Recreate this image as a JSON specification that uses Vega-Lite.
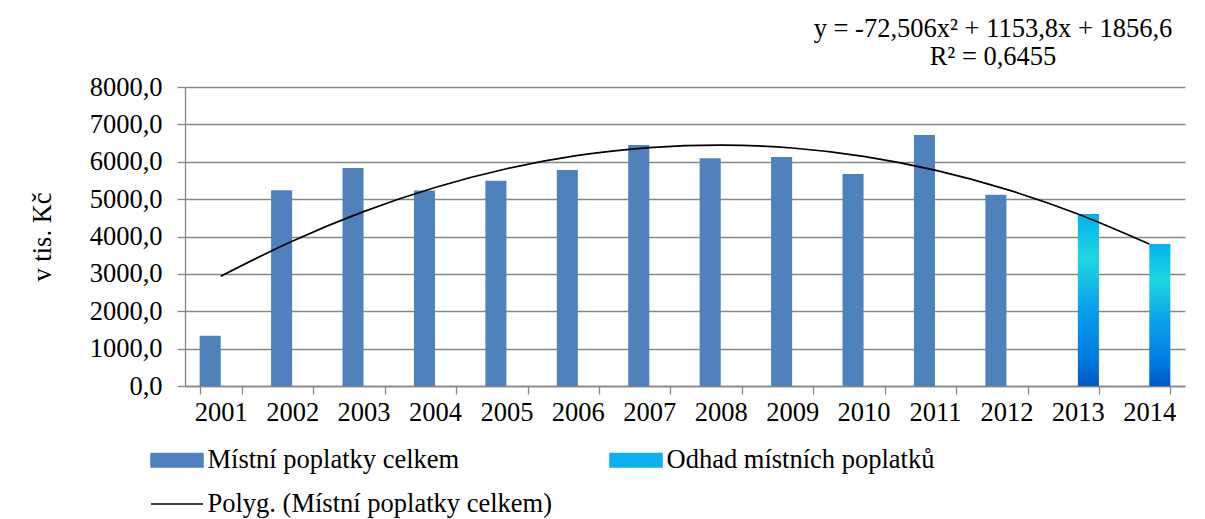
{
  "$schema": "https://vega.github.io/schema/vega-lite/v6.json",
  "width": 1000,
  "height": 299,
  "autosize": {"type": "none"},
  "padding": {"left": 185, "top": 87, "right": 20, "bottom": 133},
  "background": "white",
  "config": {"view": {"stroke": null}, "font": "Liberation Serif"},
  "title": {
    "text": "y = -72,506x² + 1153,8x + 1856,6",
    "subtitle": "R² = 0,6455",
    "anchor": "end",
    "align": "center",
    "frame": "group",
    "dx": -192,
    "offset": 4,
    "font": "Liberation Serif",
    "fontSize": 26.5,
    "fontWeight": "normal",
    "color": "black",
    "subtitleFont": "Liberation Serif",
    "subtitleFontSize": 26.5,
    "subtitleColor": "black",
    "subtitlePadding": 1
  },
  "datasets": {
    "bars": [
      {"year": "2001", "value": 1345, "series": "Místní poplatky celkem"},
      {"year": "2002", "value": 5240, "series": "Místní poplatky celkem"},
      {"year": "2003", "value": 5831, "series": "Místní poplatky celkem"},
      {"year": "2004", "value": 5234, "series": "Místní poplatky celkem"},
      {"year": "2005", "value": 5491, "series": "Místní poplatky celkem"},
      {"year": "2006", "value": 5778, "series": "Místní poplatky celkem"},
      {"year": "2007", "value": 6447, "series": "Místní poplatky celkem"},
      {"year": "2008", "value": 6091, "series": "Místní poplatky celkem"},
      {"year": "2009", "value": 6126, "series": "Místní poplatky celkem"},
      {"year": "2010", "value": 5671, "series": "Místní poplatky celkem"},
      {"year": "2011", "value": 6716, "series": "Místní poplatky celkem"},
      {"year": "2012", "value": 5115, "series": "Místní poplatky celkem"},
      {"year": "2013", "value": 4602, "series": "Odhad místních poplatků"},
      {"year": "2014", "value": 3799, "series": "Odhad místních poplatků"}
    ],
    "trend": [
      {"year": "2001", "value": 2937.9, "series": "Polyg. (Místní poplatky celkem)"},
      {"year": "2002", "value": 3874.2, "series": "Polyg. (Místní poplatky celkem)"},
      {"year": "2003", "value": 4665.4, "series": "Polyg. (Místní poplatky celkem)"},
      {"year": "2004", "value": 5311.7, "series": "Polyg. (Místní poplatky celkem)"},
      {"year": "2005", "value": 5812.9, "series": "Polyg. (Místní poplatky celkem)"},
      {"year": "2006", "value": 6169.2, "series": "Polyg. (Místní poplatky celkem)"},
      {"year": "2007", "value": 6380.4, "series": "Polyg. (Místní poplatky celkem)"},
      {"year": "2008", "value": 6446.6, "series": "Polyg. (Místní poplatky celkem)"},
      {"year": "2009", "value": 6367.8, "series": "Polyg. (Místní poplatky celkem)"},
      {"year": "2010", "value": 6144.0, "series": "Polyg. (Místní poplatky celkem)"},
      {"year": "2011", "value": 5775.2, "series": "Polyg. (Místní poplatky celkem)"},
      {"year": "2012", "value": 5261.3, "series": "Polyg. (Místní poplatky celkem)"},
      {"year": "2013", "value": 4602.5, "series": "Polyg. (Místní poplatky celkem)"},
      {"year": "2014", "value": 3798.6, "series": "Polyg. (Místní poplatky celkem)"}
    ]
  },
  "encoding": {
    "x": {
      "field": "year",
      "type": "ordinal",
      "scale": {"paddingInner": 0.41, "paddingOuter": 0.205},
      "axis": {
        "title": null,
        "labelAngle": 0,
        "labelFont": "Liberation Serif",
        "labelFontSize": 26.5,
        "labelColor": "black",
        "labelPadding": 5,
        "domainColor": "#868686",
        "domainWidth": 1.3,
        "tickColor": "#868686",
        "tickWidth": 1.3,
        "tickSize": 8,
        "tickBand": "extent",
        "grid": false
      }
    },
    "y": {
      "field": "value",
      "type": "quantitative",
      "scale": {"domain": [0, 8000], "nice": false},
      "axis": {
        "title": "v tis. Kč",
        "values": [0, 1000, 2000, 3000, 4000, 5000, 6000, 7000, 8000],
        "labelExpr": "replace(format(datum.value, '.1f'), '.', ',')",
        "labelFont": "Liberation Serif",
        "labelFontSize": 26.5,
        "labelColor": "black",
        "labelPadding": 15,
        "titleFont": "Liberation Serif",
        "titleFontSize": 26.5,
        "titleFontWeight": "normal",
        "titleColor": "black",
        "titlePadding": 33,
        "gridColor": "#868686",
        "gridWidth": 1.3,
        "domainColor": "#868686",
        "domainWidth": 1.3,
        "tickColor": "#868686",
        "tickWidth": 1.3,
        "tickSize": 8
      }
    }
  },
  "layer": [
    {
      "data": {"name": "bars"},
      "transform": [{"filter": "datum.series === 'Místní poplatky celkem'"}],
      "mark": {"type": "bar"},
      "encoding": {
        "xOffset": {
          "field": "series",
          "type": "nominal",
          "scale": {"domain": ["Místní poplatky celkem", "Odhad místních poplatků"], "paddingInner": 0, "paddingOuter": 0}
        },
        "color": {
          "field": "series",
          "type": "nominal",
          "scale": {
            "domain": ["Místní poplatky celkem", "Polyg. (Místní poplatky celkem)", "Odhad místních poplatků"],
            "range": ["#4F81BD", "#000000", "#0CB0EC"]
          },
          "legend": {
            "title": null,
            "orient": "none",
            "legendX": -35,
            "legendY": 346,
            "columns": 2,
            "columnPadding": 55,
            "rowPadding": 3,
            "padding": 0,
            "symbolType": "M-1,-0.258H1V0.258H-1Z",
            "symbolSize": 2704,
            "symbolStrokeWidth": 1.5,
            "labelFont": "Liberation Serif",
            "labelFontSize": 26.5,
            "labelColor": "black",
            "labelOffset": 3.5,
            "labelLimit": 0,
            "encode": {
              "symbols": {
                "update": {
                  "shape": {"signal": "datum.value === 'Polyg. (Místní poplatky celkem)' ? 'M-1,0H1' : 'M-1,-0.258H1V0.258H-1Z'"},
                  "fill": {"signal": "datum.value === 'Odhad místních poplatků' ? {gradient: 'linear', x1: 0, y1: 0, x2: 0, y2: 1, stops: [{offset: 0, color: '#00B0F0'}, {offset: 0.3, color: '#20D8E0'}, {offset: 0.6, color: '#0AA0EA'}, {offset: 1, color: '#0060C8'}]} : (datum.value === 'Polyg. (Místní poplatky celkem)' ? 'transparent' : '#4F81BD')"},
                  "stroke": {"signal": "datum.value === 'Polyg. (Místní poplatky celkem)' ? '#000000' : 'transparent'"},
                  "opacity": {"value": 1}
                }
              }
            }
          }
        }
      }
    },
    {
      "data": {"name": "bars"},
      "transform": [{"filter": "datum.series === 'Odhad místních poplatků'"}],
      "mark": {
        "type": "bar",
        "fill": {"gradient": "linear", "x1": 0, "y1": 0, "x2": 0, "y2": 1, "stops": [{"offset": 0, "color": "#00B0F0"}, {"offset": 0.25, "color": "#20D8E0"}, {"offset": 0.55, "color": "#0AA0EA"}, {"offset": 0.85, "color": "#0078E0"}, {"offset": 1, "color": "#0058C0"}]}
      },
      "encoding": {
        "xOffset": {"field": "series", "type": "nominal"}
      }
    },
    {
      "data": {"name": "trend"},
      "mark": {"type": "line", "interpolate": "monotone", "strokeWidth": 1.7},
      "encoding": {
        "color": {"field": "series", "type": "nominal"}
      }
    }
  ]
}
